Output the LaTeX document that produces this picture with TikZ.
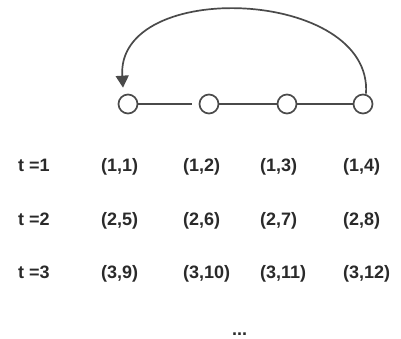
\documentclass[tikz,border=0pt]{standalone}
\usepackage{fontspec}
\setmainfont{Liberation Sans}
\usetikzlibrary{arrows.meta}
\definecolor{ink}{HTML}{2A2A2A}
\tikzset{
  vert/.style={circle,draw=ink!85,line width=1.7pt,minimum size=19pt,inner sep=0pt,fill=white},
  lab/.style={anchor=base west,inner sep=0pt,text=ink,font=\fontsize{18}{21}\selectfont\bfseries},
  edge/.style={draw=ink!85,line width=1.7pt}
}
\begin{document}
\begin{tikzpicture}[x=1pt,y=-1pt]
\useasboundingbox (0,0) rectangle (401,338);
\node[vert] (c1) at (128,104) {};
\node[vert] (c2) at (209,104) {};
\node[vert] (c3) at (287,104) {};
\node[vert] (c4) at (363,104) {};
\draw[edge,shorten >=7pt] (c1) -- (c2);
\draw[edge] (c2) -- (c3);
\draw[edge] (c3) -- (c4);
\coordinate (s) at ([xshift=3pt]c4.north);
\draw[edge,-{Triangle[length=12pt,width=13pt]}] (s) .. controls (373,-12) and (116,-22) .. ([xshift=-5pt,yshift=6pt]c1.north);
% rows
\node[lab] (t1) at (18,171) {t =1};
\node[lab] (a11) at (101,171) {(1,1)};
\node[lab] (a12) at (183,171) {(1,2)};
\node[lab] (a13) at (260,171) {(1,3)};
\node[lab] (a14) at (343,171) {(1,4)};
\node[lab] (t2) at (18,225) {t =2};
\node[lab] (a21) at (101,225) {(2,5)};
\node[lab] (a22) at (183,225) {(2,6)};
\node[lab] (a23) at (260,225) {(2,7)};
\node[lab] (a24) at (343,225) {(2,8)};
\node[lab] (t3) at (18,278) {t =3};
\node[lab] (a31) at (101,278) {(3,9)};
\node[lab] (a32) at (183,278) {(3,10)};
\node[lab] (a33) at (260,278) {(3,11)};
\node[lab] (a34) at (343,278) {(3,12)};
\node[lab] (dots) at (232,335) {...};
\end{tikzpicture}
\end{document}
